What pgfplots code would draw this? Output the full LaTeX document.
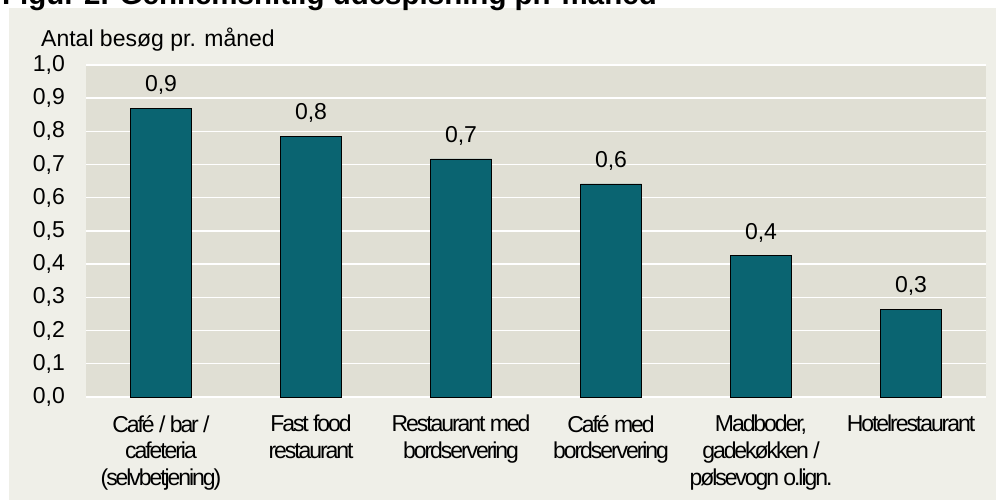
\documentclass[border=0pt]{standalone}
\usepackage{fontspec}
\setmainfont{Liberation Sans}
\newfontfamily\condfont[LetterSpace=-9]{Liberation Sans}
\usepackage{pgfplots}
\pgfplotsset{compat=1.18}
\definecolor{barfill}{RGB}{10,100,113}
\definecolor{plotbg}{RGB}{224,223,212}
\definecolor{panelbg}{RGB}{239,239,232}
\begin{document}
\begin{tikzpicture}[x=1pt,y=1pt]
\useasboundingbox (0,0) rectangle (996,500);
\clip (0,0) rectangle (996,500);
\fill[white] (0,0) rectangle (996,500);
\fill[panelbg] (9,0) rectangle (996,492);
\node[anchor=base west, inner sep=0, font=\fontsize{29.5}{32}\selectfont\bfseries] at (2,495) {Figur 2. Gennemsnitlig udespisning pr. måned};
\node[anchor=base west, inner sep=0, font=\fontsize{23}{26}\selectfont] at (41,453) {Antal besøg pr. måned};
\begin{axis}[
 at={(86pt,103pt)}, anchor=south west,
 width=900pt, height=332pt, scale only axis,
 xmin=-0.5, xmax=5.5, ymin=0, ymax=1,
 axis background/.style={fill=plotbg},
 axis line style={draw=none},
 ymajorgrids, major grid style={white, line width=1.4pt},
 ytick={0,0.1,0.2,0.3,0.4,0.5,0.6,0.7,0.8,0.9,1},
 xtick={0,1,2,3,4,5},
 xticklabels={{Café / bar /\\cafeteria\\(selvbetjening)},{Fast food\\restaurant},{Restaurant med\\bordservering},{Café med\\bordservering},{Madboder,\\gadekøkken /\\pølsevogn o.lign.},{Hotelrestaurant}},
 major tick length=0pt,
 tick style={draw=none},
 /pgf/number format/.cd, use comma, fixed, fixed zerofill, precision=1, assume math mode=true, /pgfplots/.cd,
 yticklabel style={font=\fontsize{23}{26}\selectfont, inner sep=0pt, xshift=-21pt, anchor=east},
 xticklabel style={font=\condfont\fontsize{23}{26.7}\selectfont, align=center, anchor=north, inner sep=0pt, yshift=-18pt},
 ybar, bar width=61pt,
 nodes near coords,
 every node near coord/.append style={font=\fontsize{23}{26}\selectfont, anchor=base, inner sep=0pt, yshift=16.5pt, black},
 clip=false,
]
\addplot[fill=barfill, draw=black, line width=0.7pt] coordinates {(0,0.870) (1,0.786) (2,0.717) (3,0.642) (4,0.426) (5,0.265)};
\end{axis}
\end{tikzpicture}
\end{document}
